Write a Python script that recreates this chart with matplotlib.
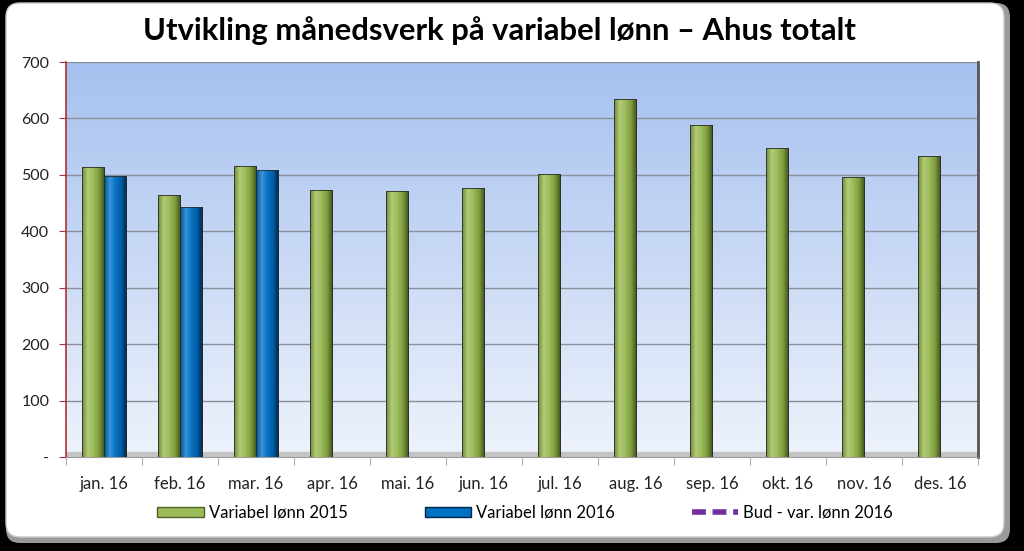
import numpy as np
import matplotlib.pyplot as plt
from matplotlib.colors import LinearSegmentedColormap
from matplotlib.patches import FancyBboxPatch
from matplotlib.lines import Line2D
from matplotlib.patches import Patch

months = ["jan. 16", "feb. 16", "mar. 16", "apr. 16", "mai. 16", "jun. 16",
          "jul. 16", "aug. 16", "sep. 16", "okt. 16", "nov. 16", "des. 16"]
lonn_2015 = [514, 465, 516, 473, 472, 477, 502, 634, 589, 547, 497, 534]
lonn_2016 = [498, 443, 509]
bud_2016 = []  # legend only, no values drawn
yticks = [0, 100, 200, 300, 400, 500, 600, 700]
yticklabels = ["-", "100", "200", "300", "400", "500", "600", "700"]

plt.rcParams['font.family'] = ['Lato', 'DejaVu Sans']

W, H = 1024, 551
fig = plt.figure(figsize=(W / 100, H / 100), dpi=100)
fig.patch.set_facecolor('black')

# white rounded panel with gray inner shadow
bg = fig.add_axes([0, 0, 1, 1], zorder=-10)
bg.set_xlim(0, W)
bg.set_ylim(H, 0)
bg.axis('off')
bg.add_patch(FancyBboxPatch((6, 3), 1004, 540, boxstyle="round,pad=0,rounding_size=14",
                            facecolor='#9a9a9a', edgecolor='none'))
bg.add_patch(FancyBboxPatch((6, 3), 998, 534, boxstyle="round,pad=0,rounding_size=14",
                            facecolor='white', edgecolor='#c8c8c8', lw=1))

ax = fig.add_axes([66 / W, 1 - 457 / H, (978 - 66) / W, (457 - 62) / H])
ax.set_facecolor('none')

n = len(months)
x = np.arange(n)
bw = 0.29

# gradient background of the plot area
grad = np.linspace(0, 1, 256).reshape(-1, 1)
bg_cmap = LinearSegmentedColormap.from_list('bgc', ['#eef3fc', '#c9d9f5', '#a6c1ef'])
ax.imshow(grad, extent=[-0.5, n - 0.5, 0, 700], origin='lower', aspect='auto',
          cmap=bg_cmap, zorder=0)
# floor
ax.axhspan(0, 8, color='#c4c4c4', zorder=1)

for yv in yticks[1:]:
    ax.axhline(yv, color='#8a8f99', lw=1, zorder=2)

green_cmap = LinearSegmentedColormap.from_list('g', ['#6f8a38', '#b4cc78', '#9bbb59', '#7f9c40', '#3f521a'])
blue_cmap = LinearSegmentedColormap.from_list('b', ['#00508f', '#3a95da', '#0a72c2', '#005ea6', '#00284a'])
hgrad = np.linspace(0, 1, 64).reshape(1, -1)


def grad_bars(xs, vals, cmap):
    bars = ax.bar(xs, vals, width=bw, color='none', edgecolor='#2a2a2a', lw=0.6, zorder=4)
    for b in bars:
        x0, w, h = b.get_x(), b.get_width(), b.get_height()
        im = ax.imshow(hgrad, extent=[x0, x0 + w, 0, h], aspect='auto', cmap=cmap, zorder=3)
        im.set_clip_path(b)
    return bars


grad_bars(x[:len(lonn_2015)] - bw / 2, lonn_2015, green_cmap)
grad_bars(x[:len(lonn_2016)] + bw / 2, lonn_2016, blue_cmap)

ax.set_xlim(-0.5, n - 0.5)
ax.set_ylim(0, 700)

ax.set_yticks(yticks)
ax.set_yticklabels(yticklabels, fontsize=11.5, color='#222222')
ax.tick_params(axis='y', length=5, color='#b03030', pad=7)
ax.set_xticks(x)
ax.set_xticklabels(months, fontsize=12, color='#222222')
ax.tick_params(axis='x', length=0, pad=14)
ax.set_xticks(np.arange(-0.5, n, 1), minor=True)
ax.tick_params(axis='x', which='minor', length=6, color='#9a9a9a')

ax.spines['left'].set_color('#b03030')
ax.spines['left'].set_linewidth(1.2)
ax.spines['bottom'].set_color('#9a9a9a')
ax.spines['top'].set_visible(False)
ax.spines['right'].set_color('#555555')
ax.spines['right'].set_linewidth(2)

fig.text(0.488, 1 - 31 / H, "Utvikling månedsverk på variabel lønn – Ahus totalt",
         ha='center', va='center', fontsize=22.3, fontweight='bold', color='black')

handles = [Patch(facecolor='#9bbb59', edgecolor='#4f6228'),
           Patch(facecolor='#0070c0', edgecolor='#00284a'),
           Line2D([0], [0], color='#7030a0', lw=4, ls=(0, (2.5, 1.2)))]
labels = ["Variabel lønn 2015", "Variabel lønn 2016", "Bud - var. lønn 2016"]
fig.legend(handles, labels, loc='center', bbox_to_anchor=(0.513, 1 - 513 / H), ncol=3,
           frameon=False, fontsize=12, handlelength=2.8, handleheight=0.6,
           columnspacing=4.6, handletextpad=0.3)

fig.savefig('out.png', dpi=100, facecolor=fig.get_facecolor())
